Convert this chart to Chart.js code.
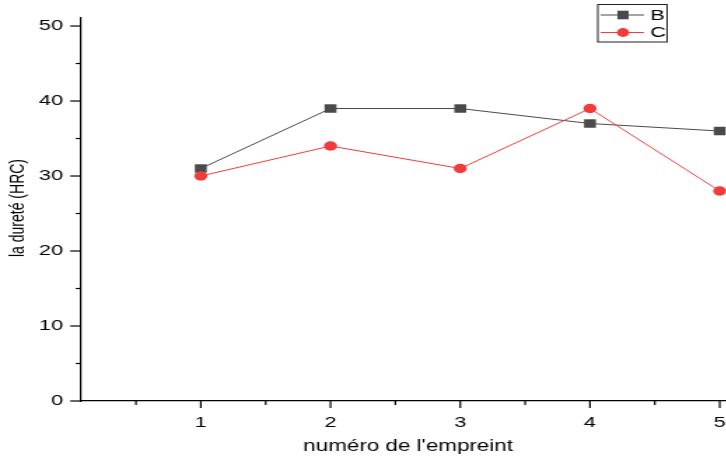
<!DOCTYPE html>
<html>
<head>
<meta charset="utf-8">
<script src="https://cdn.jsdelivr.net/npm/chart.js@4/dist/chart.umd.min.js"></script>
<style>
  html, body { margin: 0; padding: 0; background: #fff; overflow: hidden; }
  #frame { width: 726px; height: 459px; overflow: hidden; position: relative; background: #fff; }
  #stretch { width: 560px; height: 459px; transform: scaleX(1.4); transform-origin: 0 0; }
  canvas { display: block; }
</style>
</head>
<body>
<div id="frame"><div id="stretch"><canvas id="c" width="560" height="459"></canvas></div></div>
<script>
// Hardness readings per indentation, two samples
const empreintes = [1, 2, 3, 4, 5];
const dureteB = [31, 39, 39, 37, 36];
const dureteC = [30, 34, 31, 39, 28];
const seriesNames = ['B', 'C'];
const xTickValues = [1, 2, 3, 4, 5];
const yTickValues = [0, 10, 20, 30, 40, 50];
const xTitle = "numéro de l'empreint";
const yTitle = 'la dureté (HRC)';

const FONT = '"Liberation Sans", Arial, Helvetica, sans-serif';
const GREY = '#4a4a4a';
const RED = '#f23b3b';

const isOn = (v, step) => Math.abs(v / step - Math.round(v / step)) < 1e-6;
const inList = (list, v) => list.some(t => Math.abs(t - v) < 1e-6);

// Axis tick marks (long at labelled values, short in between), titles and legend box
const decorations = {
  id: 'decorations',
  afterDraw(chart) {
    const ctx = chart.ctx;
    const xs = chart.scales.x, ys = chart.scales.y;
    const area = chart.chartArea;
    ctx.save();
    ctx.strokeStyle = '#000';
    ctx.lineWidth = 1.2;
    ys.ticks.forEach(t => {
      if (!isOn(t.value, 5)) return;
      const y = ys.getPixelForValue(t.value);
      const len = inList(yTickValues, t.value) ? 7 : 3;
      ctx.beginPath();
      ctx.moveTo(area.left - len, y);
      ctx.lineTo(area.left, y);
      ctx.stroke();
    });
    xs.ticks.forEach(t => {
      if (!isOn(t.value, 0.5)) return;
      const x = xs.getPixelForValue(t.value);
      const len = inList(xTickValues, t.value) ? 7 : 4;
      ctx.beginPath();
      ctx.moveTo(x, area.bottom);
      ctx.lineTo(x, area.bottom + len);
      ctx.stroke();
    });

    // axis titles
    ctx.fillStyle = '#000';
    ctx.font = '16px ' + FONT;
    ctx.textAlign = 'center';
    ctx.textBaseline = 'middle';
    ctx.fillText(xTitle, 291.5, 447);
    ctx.save();
    ctx.translate(12.8, 208);
    ctx.rotate(-Math.PI / 2);
    ctx.font = '14px ' + FONT;
    ctx.fillText(yTitle, 0, 0);
    ctx.restore();

    // legend
    const bx = 427, by = 4.5, bw = 49.5, bh = 37.5;
    ctx.lineWidth = 1;
    ctx.strokeStyle = '#222';
    ctx.strokeRect(bx, by, bw, bh);
    const rows = [
      { name: seriesNames[0], y: 15, color: GREY, shape: 'rect' },
      { name: seriesNames[1], y: 32.5, color: RED, shape: 'circle' }
    ];
    rows.forEach(r => {
      ctx.strokeStyle = r.color;
      ctx.lineWidth = 1;
      ctx.beginPath();
      ctx.moveTo(bx + 2, r.y);
      ctx.lineTo(bx + 33, r.y);
      ctx.stroke();
      ctx.fillStyle = r.color;
      const cx = bx + 18;
      if (r.shape === 'rect') {
        ctx.fillRect(cx - 4, r.y - 4.3, 8, 8.6);
      } else {
        ctx.beginPath();
        ctx.arc(cx, r.y, 4.4, 0, Math.PI * 2);
        ctx.fill();
      }
      ctx.fillStyle = '#000';
      ctx.font = '15.5px ' + FONT;
      ctx.textAlign = 'left';
      ctx.textBaseline = 'middle';
      ctx.fillText(r.name, bx + 37.5, r.y + 0.5);
    });
    ctx.restore();
  }
};

new Chart(document.getElementById('c'), {
  type: 'line',
  data: {
    datasets: [
      {
        label: seriesNames[0],
        data: empreintes.map((x, i) => ({ x, y: dureteB[i] })),
        borderColor: GREY,
        backgroundColor: GREY,
        borderWidth: 1,
        pointStyle: 'rect',
        pointRadius: 6,
        pointBorderWidth: 0,
        pointBackgroundColor: GREY,
        tension: 0,
        order: 2
      },
      {
        label: seriesNames[1],
        data: empreintes.map((x, i) => ({ x, y: dureteC[i] })),
        borderColor: RED,
        backgroundColor: RED,
        borderWidth: 1,
        pointStyle: 'circle',
        pointRadius: 4.7,
        pointBorderWidth: 0,
        pointBackgroundColor: RED,
        tension: 0,
        order: 1
      }
    ]
  },
  options: {
    responsive: false,
    animation: false,
    devicePixelRatio: 1,
    layout: { padding: { top: 18, right: 5, left: 0, bottom: 0 } },
    plugins: { legend: { display: false }, tooltip: { enabled: false } },
    scales: {
      x: {
        type: 'linear',
        min: 0.0684,
        max: 5.431,
        afterFit(scale) { scale.height = 58; },
        border: { display: true, color: '#000', width: 1.2 },
        grid: { display: false, drawTicks: true, tickLength: 7 },
        ticks: {
          stepSize: 0.5,
          includeBounds: false,
          autoSkip: false,
          maxRotation: 0,
          padding: 5,
          color: '#000',
          font: { family: FONT, size: 15.5 },
          callback: v => inList(xTickValues, v) ? String(Math.round(v)) : ''
        }
      },
      y: {
        type: 'linear',
        min: 0,
        max: 51.07,
        afterFit(scale) { scale.width = 57.1; },
        border: { display: true, color: '#000', width: 1.2 },
        grid: { display: false, drawTicks: true, tickLength: 7 },
        ticks: {
          stepSize: 5,
          includeBounds: false,
          autoSkip: false,
          padding: 5,
          color: '#000',
          font: { family: FONT, size: 15.5 },
          callback: v => inList(yTickValues, v) ? String(Math.round(v)) : ''
        }
      }
    }
  },
  plugins: [decorations]
});
</script>
</body>
</html>
